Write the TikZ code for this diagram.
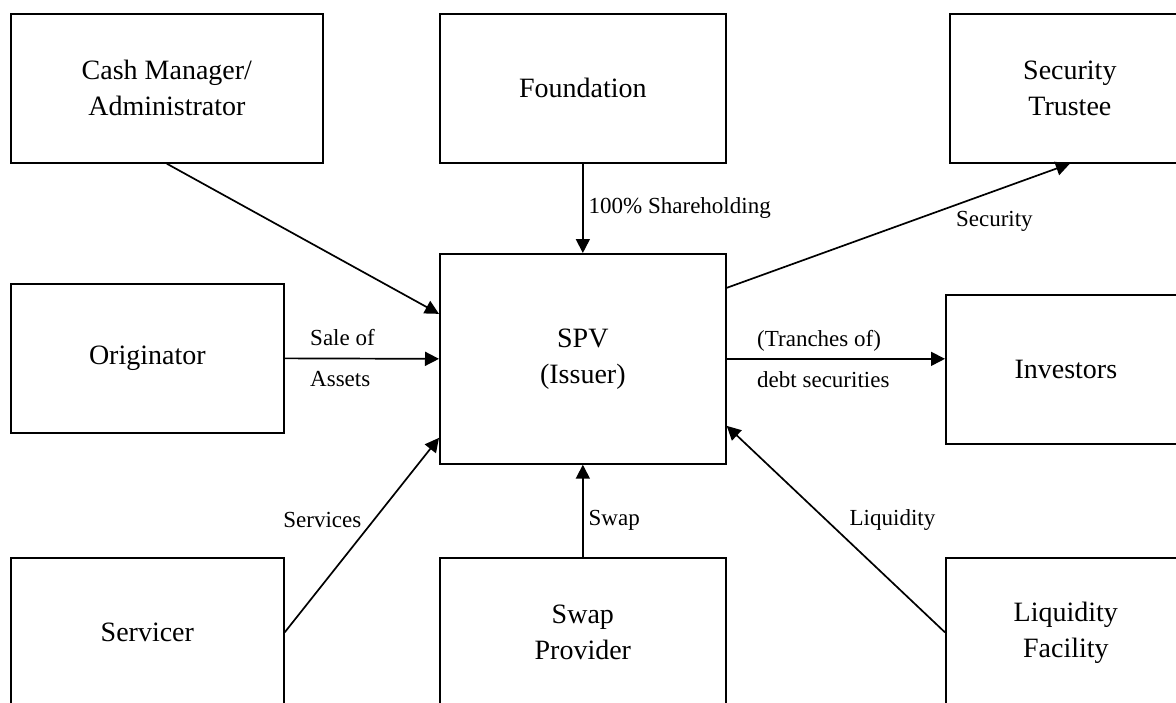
\documentclass[tikz,border=0pt]{standalone}
\usepackage{fontspec}
\setmainfont{Liberation Serif}
\usetikzlibrary{arrows.meta,calc}
\begin{document}
\begin{tikzpicture}[x=1pt,y=-1pt,
  box/.style={draw, line width=1.7pt, inner sep=0pt, anchor=north west, align=center, font=\fontsize{28}{36}\selectfont},
  conn/.style={line width=1.7pt, -{Triangle[length=14pt,width=14pt]}},
  lbl/.style={font=\fontsize{23}{41}\selectfont, inner sep=0pt}]
\useasboundingbox (0,0) rectangle (1176,702);
\clip (0,0) rectangle (1176,702);
\fill[white] (0,0) rectangle (1176,702);
% boxes
\node[box, minimum width=312pt, minimum height=149pt] (cm) at (10,13) {Cash Manager/\\Administrator};
\node[box, minimum width=286pt, minimum height=149pt] (fd) at (439,13) {Foundation};
\node[box, minimum width=240pt, minimum height=149pt] (st) at (949,13) {Security\\Trustee};
\node[box, minimum width=273pt, minimum height=149pt] (or) at (10,283) {Originator};
\node[box, minimum width=286pt, minimum height=210pt] (spv) at (439,253) {SPV\\(Issuer)};
\node[box, minimum width=240pt, minimum height=149pt] (inv) at (945,294) {Investors};
\node[box, minimum width=273pt, minimum height=149pt] (sv) at (10,557) {Servicer};
\node[box, minimum width=286pt, minimum height=149pt] (sw) at (439,557) {Swap\\Provider};
\node[box, minimum width=240pt, minimum height=149pt] (lf) at (945,557) {Liquidity\\Facility};
% connectors
\draw[conn] (cm.south) -- ($(spv.west)+(0,-45)$);
\draw[conn] (fd.south) -- (spv.north)
  node[lbl, pos=0.5, anchor=west, xshift=5pt] {100\% Shareholding};
\draw[conn] ($(spv.east)+(0,-71)$) -- (st.south)
  node[lbl, pos=0.78, yshift=-30pt] {Security};
\draw[conn] (or.east) -- (spv.west)
  node[lbl, pos=0.16, anchor=west, align=left] {Sale of\\Assets};
\draw[conn] (spv.east) -- (spv.east -| inv.west)
  node[lbl, pos=0.136, anchor=west, align=left] {(Tranches of)\\debt securities};
\draw[conn] (sv.east) -- ($(spv.west)+(0,79)$)
  node[lbl, pos=0.58, anchor=east, xshift=-12pt] {Services};
\draw[conn] (sw.north) -- (spv.south)
  node[lbl, pos=0.4, anchor=west, xshift=5pt] {Swap};
\draw[conn] (lf.west) -- ($(spv.east)+(0,67)$)
  node[lbl, pos=0.546, anchor=west, xshift=23pt] {Liquidity};
\end{tikzpicture}
\end{document}
